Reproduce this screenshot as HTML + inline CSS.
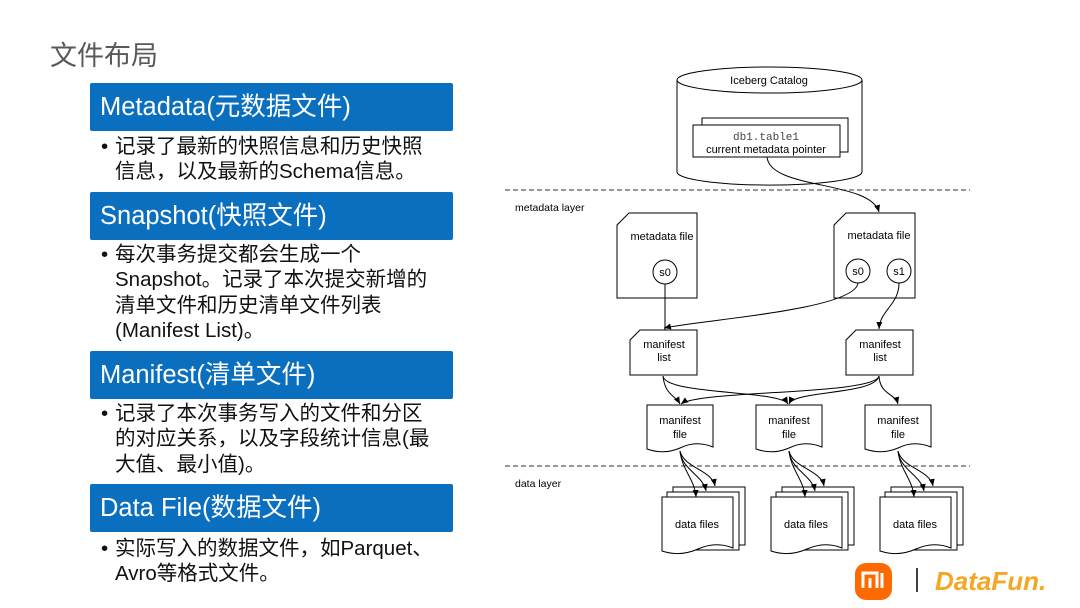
<!DOCTYPE html>
<html><head><meta charset="utf-8"><style>
body{margin:0;width:1080px;height:608px;background:#fff;position:relative;overflow:hidden;font-family:"Liberation Sans","Noto Sans CJK SC",sans-serif}
.t{position:absolute;left:50px;top:34px;font-size:27px;color:#595959}
.b{position:absolute;left:90px;width:363px;height:48px;background:#0b6fc0;color:#fff;font-size:25.5px;line-height:48px;padding-left:10px;box-sizing:border-box;border-radius:2px;white-space:nowrap}
.p{position:absolute;left:115px;font-size:20.5px;line-height:25.3px;color:#111;width:360px;white-space:nowrap}
.p:before{content:"•";position:absolute;left:-14px}
</style></head><body>
<div class="t">文件布局</div>
<div class="b" style="top:83px">Metadata(元数据文件)</div>
<div class="p" style="top:134px">记录了最新的快照信息和历史快照<br>信息，以及最新的Schema信息。</div>
<div class="b" style="top:192px">Snapshot(快照文件)</div>
<div class="p" style="top:242px">每次事务提交都会生成一个<br>Snapshot。记录了本次提交新增的<br>清单文件和历史清单文件列表<br>(Manifest List)。</div>
<div class="b" style="top:351px">Manifest(清单文件)</div>
<div class="p" style="top:401px">记录了本次事务写入的文件和分区<br>的对应关系，以及字段统计信息(最<br>大值、最小值)。</div>
<div class="b" style="top:484px">Data File(数据文件)</div>
<div class="p" style="top:536px">实际写入的数据文件，如Parquet、<br>Avro等格式文件。</div>
<svg width="1080" height="608" style="position:absolute;left:0;top:0" font-family="Liberation Sans,sans-serif" font-size="11">
<defs><marker id="a" markerWidth="8" markerHeight="8" refX="7" refY="4" orient="auto" markerUnits="userSpaceOnUse"><path d="M0,1 L7,4 L0,7z" fill="#000"/></marker></defs>
<g fill="#fff" stroke="#000" stroke-width="1">
<path d="M677,80 L677,172 A92,13 0 0 0 862,172 L862,80"/>
<ellipse cx="769.5" cy="80" rx="92.5" ry="13"/>
<rect x="702" y="118" width="146" height="34"/>
<rect x="693" y="125" width="147" height="32"/>
<path d="M629,213 L697,213 L697,298 L617,298 L617,225z"/>
<circle cx="665" cy="272" r="12"/>
<path d="M846,213 L915,213 L915,298 L834,298 L834,225z"/>
<circle cx="858" cy="271" r="12"/><circle cx="899" cy="271" r="12"/>
<path d="M640,330 L697,330 L697,375 L630,375 L630,340z"/>
<path d="M856,330 L913,330 L913,375 L846,375 L846,340z"/>
</g>
<g fill="#fff" stroke="#000">
<path d="M647,405 L713,405 L713,447 Q696,440 680,448 Q664,455 647,449z"/>
<path d="M756,405 L822,405 L822,447 Q805,440 789,448 Q773,455 756,449z"/>
<path d="M865,405 L931,405 L931,447 Q914,440 898,448 Q882,455 865,449z"/>
<g id="d">
<rect x="673" y="487" width="72" height="58"/>
<rect x="667" y="492" width="72" height="58"/>
<path d="M662,497 L733,497 L733,548 Q716,541 698,549 Q680,557 662,551z"/>
</g>
<use href="#d" x="109"/><use href="#d" x="218"/>
</g>
<g stroke="#333" stroke-dasharray="5,3"><line x1="505" y1="190" x2="970" y2="190"/><line x1="505" y1="466" x2="970" y2="466"/></g>
<g fill="none" stroke="#000" marker-end="url(#a)">
<path d="M767,157 C770,190 870,180 879,212"/>
<path d="M665,284 L665,330 M858,283 C855,310 700,320 664,328"/>
<path d="M899,283 C899,305 880,310 879,329"/>
<path d="M663,376 C665,395 675,395 680,404"/>
<path d="M663,376 C665,395 780,390 788,404"/>
<path d="M879,376 C875,395 700,390 681,404"/>
<path d="M879,376 C875,395 795,390 789,404"/>
<path d="M879,376 C880,395 895,393 898,404"/>
</g>
<g id="f" fill="none" stroke="#000" marker-end="url(#a)">
<path d="M680,451 C682,470 695,480 696,497"/>
<path d="M680,451 C682,470 703,475 706,491"/>
<path d="M680,451 C684,468 712,470 715,486"/>
</g>
<use href="#f" x="109"/><use href="#f" x="218"/>
<g text-anchor="middle" fill="#000">
<text x="769" y="84">Iceberg Catalog</text>
<text x="766" y="140" font-family="Liberation Mono,monospace" fill="#444">db1.table1</text>
<text x="766" y="153">current metadata pointer</text>
<text x="662" y="240">metadata file</text><text x="879" y="239">metadata file</text>
<text x="665" y="276">s0</text><text x="858" y="275">s0</text><text x="899" y="275">s1</text>
<text x="664" y="348">manifest</text><text x="664" y="361">list</text>
<text x="880" y="348">manifest</text><text x="880" y="361">list</text>
<text x="680" y="424">manifest</text><text x="680" y="438">file</text>
<text x="789" y="424">manifest</text><text x="789" y="438">file</text>
<text x="898" y="424">manifest</text><text x="898" y="438">file</text>
<text x="697" y="528">data files</text><text x="806" y="528">data files</text><text x="915" y="528">data files</text>
</g>
<text x="515" y="211" font-size="10.5">metadata layer</text>
<text x="515" y="487" font-size="10.5">data layer</text>
<rect x="855" y="563" width="37" height="37" rx="11" fill="#ff6a00"/>
<path d="M863,588 V573 H877 V588 M870,578 V588 M882,573 V588" stroke="#fff" stroke-width="3" fill="none"/>
<line x1="917" y1="568" x2="917" y2="592" stroke="#000" stroke-width="1.5"/>
<text x="935" y="590" font-size="26" font-weight="bold" font-style="italic" fill="#f5a623">DataFun.</text>
</svg>
</body></html>
